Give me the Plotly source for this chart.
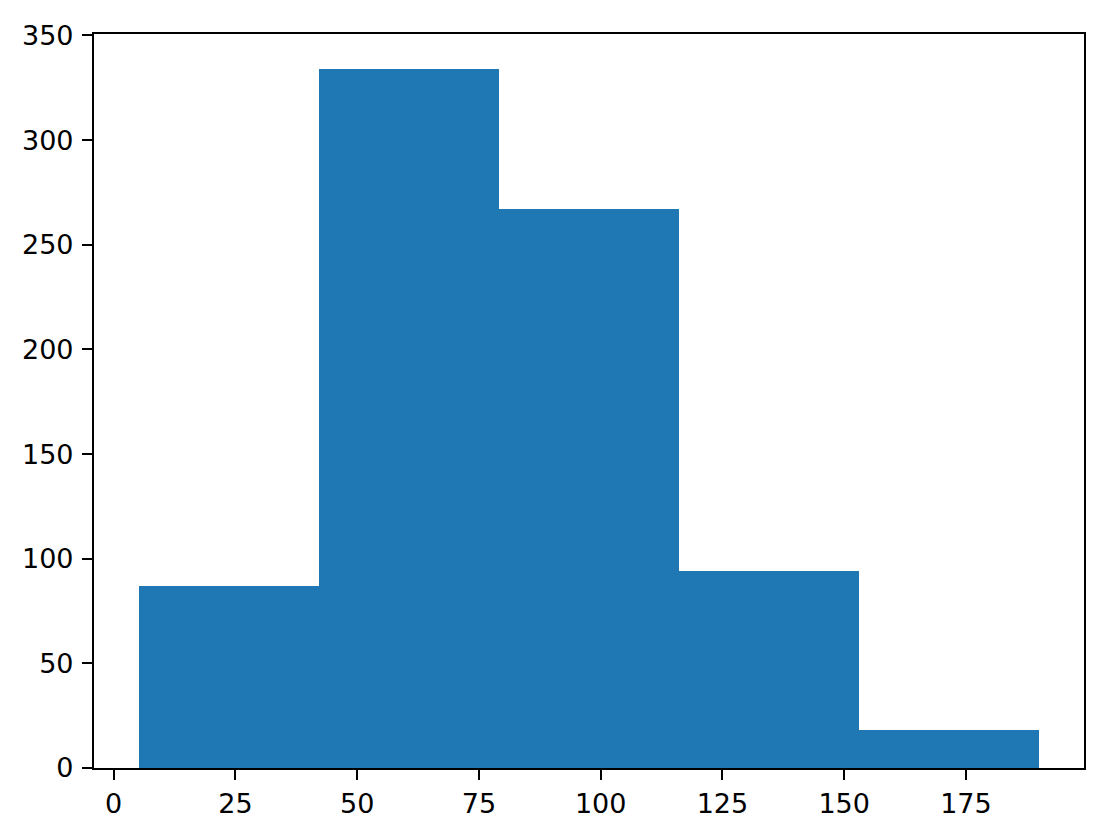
import plotly.graph_objects as go

# histogram bins (edges) and counts
bin_edges = [5.2, 42.16, 79.12, 116.08, 153.04, 190.0]
counts = [87, 334, 267, 94, 18]

x_ticks = [0, 25, 50, 75, 100, 125, 150, 175]
y_ticks = [0, 50, 100, 150, 200, 250, 300, 350]

lefts = bin_edges[:-1]
widths = [b - a for a, b in zip(bin_edges[:-1], bin_edges[1:])]

fig = go.Figure()
fig.add_trace(go.Bar(x=lefts,
                     y=counts,
                     width=widths,
                     offset=0,
                     marker=dict(color='#1f77b4', line=dict(width=0))))

span = bin_edges[-1] - bin_edges[0]
axis_style = dict(showline=True,
                  linecolor='black',
                  linewidth=2.2,
                  mirror=True,
                  ticks='outside',
                  ticklen=10,
                  tickwidth=2.2,
                  tickcolor='black',
                  showgrid=False,
                  zeroline=False,
                  tickfont=dict(family='DejaVu Sans', size=27, color='black'))

fig.update_xaxes(range=[bin_edges[0] - 0.05 * span, bin_edges[-1] + 0.05 * span],
                 tickvals=x_ticks,
                 **axis_style)
fig.update_yaxes(range=[0, max(counts) * 1.05],
                 tickvals=y_ticks,
                 ticklabelstandoff=3,
                 **axis_style)

# page body adds an 8px margin, so the figure is 8px smaller on each side
fig.update_layout(width=1096,
                  height=828,
                  margin=dict(l=86, r=20, t=22, b=68),
                  plot_bgcolor='white',
                  paper_bgcolor='white',
                  bargap=0,
                  showlegend=False)

fig.write_html("out.html")
